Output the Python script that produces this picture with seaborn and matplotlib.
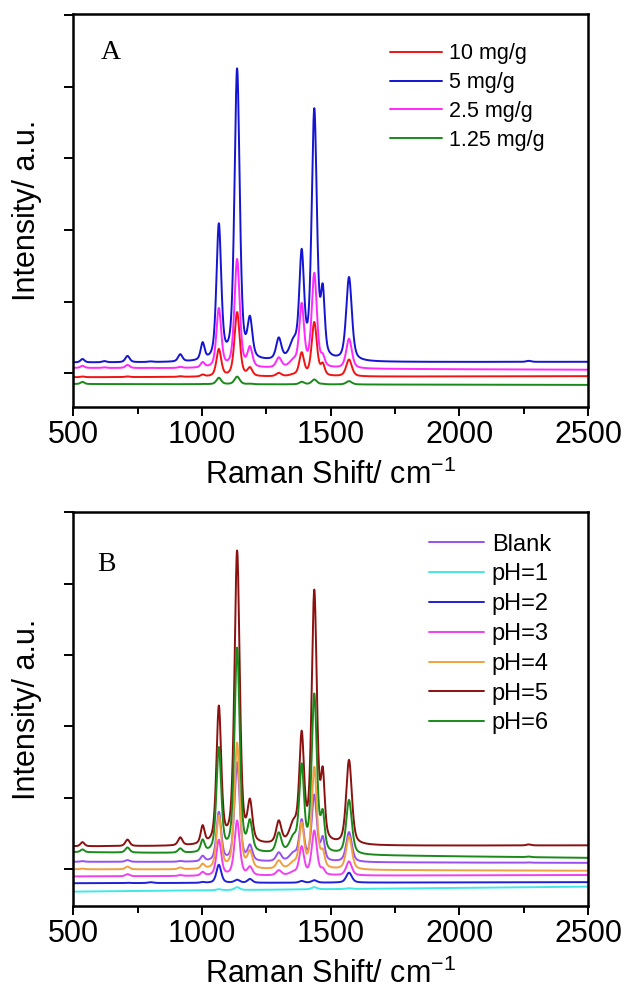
import numpy as np
import pandas as pd
import matplotlib
matplotlib.use("Agg")
import matplotlib.pyplot as plt
from matplotlib.ticker import MultipleLocator
import seaborn as sns


sns.set_theme(style="ticks")
plt.rcParams["font.family"] = ["Liberation Sans", "DejaVu Sans"]
plt.rcParams["mathtext.fontset"] = "custom"
plt.rcParams["mathtext.rm"] = "Liberation Sans"
for k in ["text.color", "axes.labelcolor", "xtick.color", "ytick.color"]:
    plt.rcParams[k] = "black"

# band centres (cm-1) and half widths shared by all spectra
centres = [535, 620, 710, 800, 915, 1002, 1065, 1136, 1186, 1298, 1355, 1387, 1436, 1469, 1571, 2269]
hwhm = [9, 10, 10, 12, 10, 9, 11, 12, 11, 12, 18, 11, 12, 9, 13, 10]

# panel A: concentration series, baseline at 500 / 2500 and peak heights above baseline
names_a = ["10 mg/g", "5 mg/g", "2.5 mg/g", "1.25 mg/g"]
colors_a = ["#f01414", "#1414d2", "#ff28ff", "#1a8a1a"]
base_a = {
    "10 mg/g": (-55, -40),
    "5 mg/g": (150, 160),
    "2.5 mg/g": (75, 50),
    "1.25 mg/g": (-150, -162),
}
heights_a = {
    "10 mg/g": [10, 0, 10, 0, 12, 35, 392, 905, 137, 55, 45, 343, 765, 198, 240, 0],
    "5 mg/g": [50, 20, 92, 15, 115, 283, 1943, 4106, 650, 348, 350, 1585, 3548, 1097, 1190, 15],
    "2.5 mg/g": [30, 10, 45, 5, 20, 90, 845, 1530, 315, 160, 150, 920, 1340, 215, 420, 0],
    "1.25 mg/g": [30, 0, 0, 0, 0, 5, 92, 108, 10, 0, 0, 37, 70, 10, 47, 0],
}

# panel B: pH series
names_b = ["Blank", "pH=1", "pH=2", "pH=3", "pH=4", "pH=5", "pH=6"]
colors_b = ["#9850f0", "#40e8e8", "#2020d8", "#f040f0", "#f0a040", "#8b1010", "#1a8a1a"]
base_b = {
    "Blank": (105, 90),
    "pH=1": (-313, -243),
    "pH=2": (-195, -180),
    "pH=3": (-100, -80),
    "pH=4": (0, -20),
    "pH=5": (320, 335),
    "pH=6": (240, 160),
}
heights_b = {
    "Blank": [10, 0, 25, 0, 15, 90, 705, 1400, 250, 140, 150, 605, 950, 370, 425, 5],
    "pH=1": [0, 0, 0, 0, 0, 0, 15, 40, 0, 0, 0, 0, 30, 0, 10, 0],
    "pH=2": [0, 0, 5, 12, 0, 15, 255, 45, 55, 0, 0, 25, 35, 0, 140, 0],
    "pH=3": [0, 0, 30, 0, 15, 60, 510, 778, 137, 80, 70, 416, 635, 115, 200, 0],
    "pH=4": [10, 0, 40, 0, 30, 85, 762, 1780, 280, 135, 130, 670, 1445, 300, 470, 0],
    "pH=5": [60, 5, 95, 5, 125, 295, 1970, 4140, 665, 360, 380, 1615, 3590, 1110, 1205, 15],
    "pH=6": [40, 0, 75, 5, 70, 200, 1495, 2890, 490, 310, 290, 1280, 2260, 640, 775, 10],
}

shift = np.arange(500, 2501, 1.0)
c = np.array(centres, float)
w = np.array(hwhm, float)


def band(x, cc, ww):
    # half lorentzian, half gaussian band shape with unit height
    d = (x - cc) / ww
    return 0.5 / (1 + d ** 2) + 0.5 * np.exp(-np.log(2) * d ** 2)


def spectrum(heights, base):
    # bands whose summed tops hit the heights
    m = band(c[:, None], c[None, :], w[None, :])
    amp = np.clip(np.linalg.solve(m, np.array(heights, float)), 0, None)
    y = base[0] + (base[1] - base[0]) * (shift - 500) / 2000
    for a, cc, ww in zip(amp, c, w):
        y = y + a * band(shift, cc, ww)
    return y


def frame(names, heights, bases):
    rows = []
    for n in names:
        rows.append(pd.DataFrame({"shift": shift, "intensity": spectrum(heights[n], bases[n]), "sample": n}))
    return pd.concat(rows, ignore_index=True)


fig = plt.figure(figsize=(6.26, 9.92), dpi=100)
ax_a = fig.add_axes([0.1174, 0.5897, 0.8219, 0.3959])
ax_b = fig.add_axes([0.1174, 0.0867, 0.8219, 0.3972])

panels = [
    (ax_a, names_a, colors_a, heights_a, base_a, (-471, 5014), "A", (0.053, 0.886),
     dict(fontsize=15.5, bbox_to_anchor=(0.615, 0.926), handlelength=2.42, labelspacing=0.36)),
    (ax_b, names_b, colors_b, heights_b, base_b, (-514, 5004), "B", (0.046, 0.850),
     dict(fontsize=17, bbox_to_anchor=(0.691, 0.945), handlelength=2.33, labelspacing=0.33)),
]

for ax, names, colors, heights, bases, ylim, letter, lpos, leg in panels:
    df = frame(names, heights, bases)
    sns.lineplot(data=df, x="shift", y="intensity", hue="sample", hue_order=names,
                 palette=dict(zip(names, colors)), linewidth=1.4, estimator=None,
                 sort=False, ax=ax)
    ax.set_xlim(500, 2500)
    ax.set_ylim(*ylim)
    ax.xaxis.set_major_locator(MultipleLocator(500))
    ax.xaxis.set_minor_locator(MultipleLocator(250))
    ax.yaxis.set_major_locator(MultipleLocator(1000))
    ax.set_yticklabels([])
    ax.tick_params(axis="both", which="major", direction="out", length=6.5, width=1.4,
                   labelsize=22, pad=3, top=False, right=False)
    ax.tick_params(axis="x", which="minor", direction="out", length=5, width=1.4)
    for s in ax.spines.values():
        s.set_linewidth(1.8)
        s.set_color("black")
    ax.set_xlabel(r"Raman Shift/ cm$^{\mathregular{-1}}$", fontsize=22)
    ax.set_ylabel("Intensity/ a.u.", fontsize=22)
    ax.xaxis.set_label_coords(0.5, -0.135)
    ax.yaxis.set_label_coords(-0.062, 0.5)
    ax.text(lpos[0], lpos[1], letter, transform=ax.transAxes, fontsize=20,
            family="Liberation Serif", va="baseline", ha="left")
    h, l = ax.get_legend_handles_labels()
    ax.legend(h, l, loc="upper left", frameon=False, borderpad=0, borderaxespad=0,
              handletextpad=0.33, **leg)

fig.savefig("out.png", dpi=100)
